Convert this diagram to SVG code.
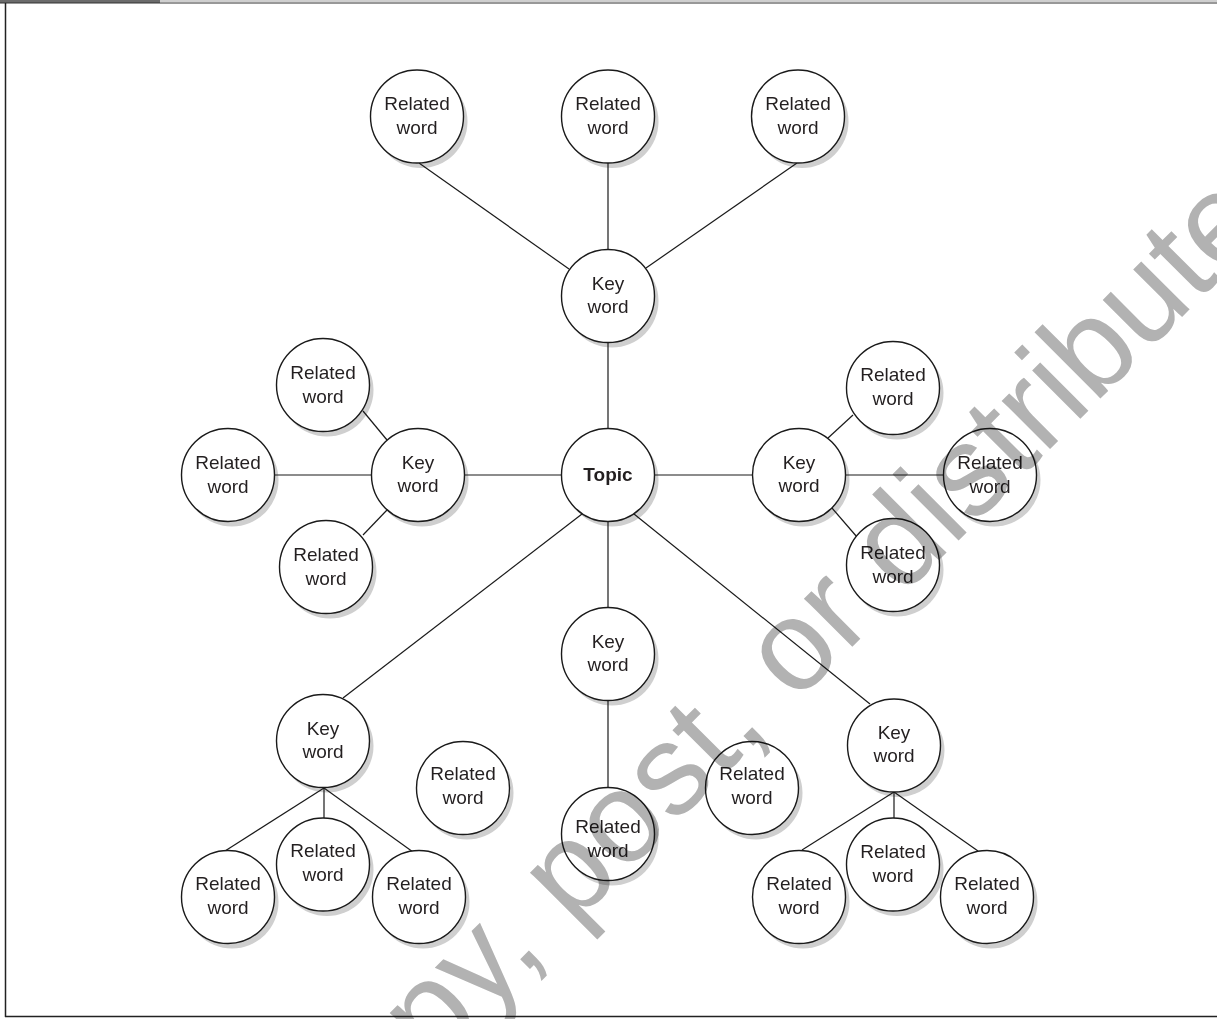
<svg xmlns="http://www.w3.org/2000/svg" width="1217" height="1019" viewBox="0 0 1217 1019">
  <style>
    .shadow { fill: #cfcfcf; }
    .node { fill: #ffffff; stroke: #1a1a1a; stroke-width: 1.4; }
    .lbl { font-family: "Liberation Sans", Arial, sans-serif; font-size: 19px; fill: #231f20; text-anchor: middle; }
    .topic { font-weight: bold; }
    .edges line { stroke: #1a1a1a; stroke-width: 1.2; }
    .mark { font-family: "Liberation Sans", Arial, sans-serif; font-size: 129px; fill: #b2b2b2; mix-blend-mode: multiply; }
  </style>
  <defs>
    <circle id="c" r="46.5"/>
  </defs>

  <rect width="1217" height="1019" fill="#ffffff"/>

  <!-- page frame -->
  <g id="frame">
    <rect x="0" y="0" width="160" height="3" fill="#6b6b6b"/>
    <rect x="160" y="0" width="1057" height="2" fill="#cfcfcf"/>
    <line x1="0" y1="3" x2="1217" y2="3" stroke="#333" stroke-width="1.2"/>
    <line x1="5.5" y1="3" x2="5.5" y2="1017" stroke="#222" stroke-width="1.5"/>
    <line x1="5" y1="1016.5" x2="1217" y2="1016.5" stroke="#222" stroke-width="1.5"/>
  </g>

  <!-- drop shadows -->
  <g id="shadows" class="shadow" transform="translate(4,5)">
    <use href="#c" x="417" y="116.5"/><use href="#c" x="608" y="116.5"/><use href="#c" x="798" y="116.5"/>
    <use href="#c" x="608" y="296"/><use href="#c" x="608" y="475"/>
    <use href="#c" x="418" y="475"/><use href="#c" x="323" y="385"/><use href="#c" x="228" y="475"/><use href="#c" x="326" y="567"/>
    <use href="#c" x="799" y="475"/><use href="#c" x="893" y="388"/><use href="#c" x="990" y="475"/><use href="#c" x="893" y="565"/>
    <use href="#c" x="608" y="654"/><use href="#c" x="608" y="834"/>
    <use href="#c" x="463" y="788"/><use href="#c" x="752" y="788"/>
    <use href="#c" x="323" y="741"/><use href="#c" x="228" y="897"/><use href="#c" x="323" y="864.5"/><use href="#c" x="419" y="897"/>
    <use href="#c" x="894" y="745.5"/><use href="#c" x="799" y="897"/><use href="#c" x="893" y="864.5"/><use href="#c" x="987" y="897"/>
  </g>

  <!-- connectors -->
  <g id="edges" class="edges">
    <line x1="419" y1="163" x2="569" y2="269"/>
    <line x1="608" y1="163" x2="608" y2="250"/>
    <line x1="797" y1="163" x2="646" y2="268"/>
    <line x1="608" y1="342" x2="608" y2="429"/>
    <line x1="464" y1="475" x2="562" y2="475"/>
    <line x1="654" y1="475" x2="753" y2="475"/>
    <line x1="363" y1="411" x2="387" y2="440"/>
    <line x1="274" y1="475" x2="372" y2="475"/>
    <line x1="363" y1="535" x2="387" y2="510"/>
    <line x1="828" y1="438" x2="853" y2="415"/>
    <line x1="845" y1="475" x2="944" y2="475"/>
    <line x1="832" y1="508" x2="857" y2="537"/>
    <line x1="608" y1="521" x2="608" y2="608"/>
    <line x1="582" y1="514" x2="343" y2="698"/>
    <line x1="634" y1="514" x2="870" y2="704"/>
    <line x1="608" y1="700" x2="608" y2="788"/>
    <line x1="324" y1="788" x2="225" y2="851"/>
    <line x1="324" y1="788" x2="324" y2="818"/>
    <line x1="324" y1="788" x2="413" y2="852"/>
    <line x1="894" y1="792" x2="802" y2="850"/>
    <line x1="894" y1="792" x2="894" y2="818"/>
    <line x1="894" y1="792" x2="978" y2="851"/>
  </g>

  <!-- top branch -->
  <g id="rel-top-1"><use href="#c" class="node" x="417" y="116.5"/><text class="lbl" x="417" y="110">Related</text><text class="lbl" x="417" y="134">word</text></g>
  <g id="rel-top-2"><use href="#c" class="node" x="608" y="116.5"/><text class="lbl" x="608" y="110">Related</text><text class="lbl" x="608" y="134">word</text></g>
  <g id="rel-top-3"><use href="#c" class="node" x="798" y="116.5"/><text class="lbl" x="798" y="110">Related</text><text class="lbl" x="798" y="134">word</text></g>
  <g id="key-top"><use href="#c" class="node" x="608" y="296"/><text class="lbl" x="608" y="290">Key</text><text class="lbl" x="608" y="313">word</text></g>

  <!-- centre -->
  <g id="topic"><use href="#c" class="node" x="608" y="475"/><text class="lbl topic" x="608" y="481">Topic</text></g>

  <!-- left branch -->
  <g id="key-left"><use href="#c" class="node" x="418" y="475"/><text class="lbl" x="418" y="469">Key</text><text class="lbl" x="418" y="492">word</text></g>
  <g id="rel-left-1"><use href="#c" class="node" x="323" y="385"/><text class="lbl" x="323" y="378.5">Related</text><text class="lbl" x="323" y="402.5">word</text></g>
  <g id="rel-left-2"><use href="#c" class="node" x="228" y="475"/><text class="lbl" x="228" y="468.5">Related</text><text class="lbl" x="228" y="492.5">word</text></g>
  <g id="rel-left-3"><use href="#c" class="node" x="326" y="567"/><text class="lbl" x="326" y="560.5">Related</text><text class="lbl" x="326" y="584.5">word</text></g>

  <!-- right branch -->
  <g id="key-right"><use href="#c" class="node" x="799" y="475"/><text class="lbl" x="799" y="469">Key</text><text class="lbl" x="799" y="492">word</text></g>
  <g id="rel-right-1"><use href="#c" class="node" x="893" y="388"/><text class="lbl" x="893" y="381">Related</text><text class="lbl" x="893" y="405">word</text></g>
  <g id="rel-right-2"><use href="#c" class="node" x="990" y="475"/><text class="lbl" x="990" y="468.5">Related</text><text class="lbl" x="990" y="492.5">word</text></g>
  <g id="rel-right-3"><use href="#c" class="node" x="893" y="565"/><text class="lbl" x="893" y="558.5">Related</text><text class="lbl" x="893" y="582.5">word</text></g>

  <!-- lower middle branch -->
  <g id="key-mid"><use href="#c" class="node" x="608" y="654"/><text class="lbl" x="608" y="648">Key</text><text class="lbl" x="608" y="671">word</text></g>
  <g id="rel-mid"><use href="#c" class="node" x="608" y="834"/><text class="lbl" x="608" y="833">Related</text><text class="lbl" x="608" y="857">word</text></g>

  <!-- unconnected words -->
  <g id="rel-free-1"><use href="#c" class="node" x="463" y="788"/><text class="lbl" x="463" y="780">Related</text><text class="lbl" x="463" y="804">word</text></g>
  <g id="rel-free-2"><use href="#c" class="node" x="752" y="788"/><text class="lbl" x="752" y="780">Related</text><text class="lbl" x="752" y="804">word</text></g>

  <!-- lower left branch -->
  <g id="key-lowleft"><use href="#c" class="node" x="323" y="741"/><text class="lbl" x="323" y="735">Key</text><text class="lbl" x="323" y="758">word</text></g>
  <g id="rel-lowleft-1"><use href="#c" class="node" x="228" y="897"/><text class="lbl" x="228" y="890">Related</text><text class="lbl" x="228" y="914">word</text></g>
  <g id="rel-lowleft-2"><use href="#c" class="node" x="323" y="864.5"/><text class="lbl" x="323" y="857">Related</text><text class="lbl" x="323" y="881">word</text></g>
  <g id="rel-lowleft-3"><use href="#c" class="node" x="419" y="897"/><text class="lbl" x="419" y="890">Related</text><text class="lbl" x="419" y="914">word</text></g>

  <!-- lower right branch -->
  <g id="key-lowright"><use href="#c" class="node" x="894" y="745.5"/><text class="lbl" x="894" y="738.5">Key</text><text class="lbl" x="894" y="762">word</text></g>
  <g id="rel-lowright-1"><use href="#c" class="node" x="799" y="897"/><text class="lbl" x="799" y="890">Related</text><text class="lbl" x="799" y="913.5">word</text></g>
  <g id="rel-lowright-2"><use href="#c" class="node" x="893" y="864.5"/><text class="lbl" x="893" y="858">Related</text><text class="lbl" x="893" y="882">word</text></g>
  <g id="rel-lowright-3"><use href="#c" class="node" x="987" y="897"/><text class="lbl" x="987" y="890">Related</text><text class="lbl" x="987" y="913.5">word</text></g>

  <!-- diagonal watermark -->
  <text class="mark" transform="translate(432,1067) rotate(-45)">py, post, or distribute</text>
</svg>
